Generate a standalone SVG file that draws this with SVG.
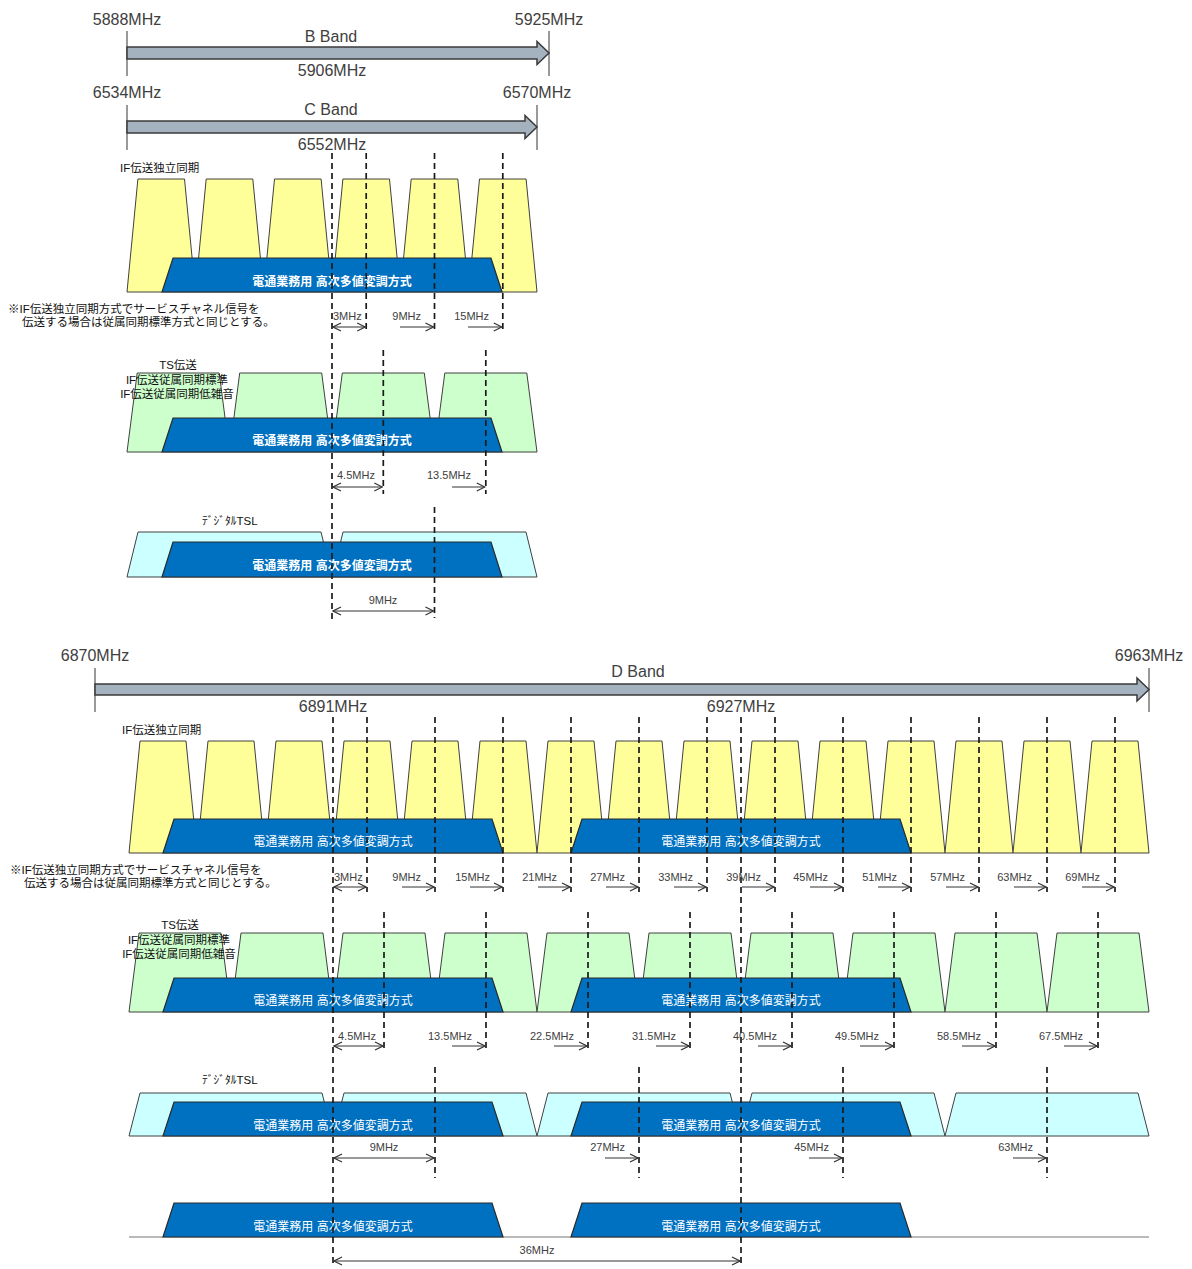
<svg xmlns="http://www.w3.org/2000/svg" width="1192" height="1269" viewBox="0 0 1192 1269">
<defs>
<style>
text{font-family:"Liberation Sans","Noto Sans CJK JP",sans-serif;fill:#404040}
.big{font-size:16px}
.sm{font-size:11px}
.jp{font-size:11.5px;fill:#111}
.bt{font-size:12px;fill:#fff;text-anchor:middle}
.btb{font-size:12px;fill:#fff;text-anchor:middle;font-weight:bold}
.mid{text-anchor:middle}
.end{text-anchor:end}
.band{fill:#a4b2c0;stroke:#3a3a3a;stroke-width:1.5}
.tick{stroke:#555;stroke-width:1.2}
.y{fill:#ffff99;stroke:#404040;stroke-width:1}
.g{fill:#ccffcc;stroke:#404040;stroke-width:1}
.c{fill:#ccffff;stroke:#404040;stroke-width:1}
.b{fill:#0070c0;stroke:#2a2a2a;stroke-width:1.2}
.dash{stroke:#1a1a1a;stroke-width:1.7;stroke-dasharray:6 4;fill:none}
.dim{stroke:#333;stroke-width:1;fill:none;marker-end:url(#ah)}
.dim2{stroke:#333;stroke-width:1;fill:none;marker-end:url(#ah);marker-start:url(#ah)}
</style>
<marker id="ah" markerWidth="10" markerHeight="10" refX="9" refY="5" orient="auto-start-reverse" markerUnits="userSpaceOnUse">
<path d="M1,1 L9,5 L1,9" fill="none" stroke="#333" stroke-width="1.2"/>
</marker>
</defs>
<rect width="1192" height="1269" fill="#fff"/>

<!-- B band -->
<g id="band-b">
<line class="tick" x1="127" y1="31" x2="127" y2="76"/>
<line class="tick" x1="549" y1="31" x2="549" y2="76"/>
<polygon class="band" points="127,47 537,47 537,41.5 549,53 537,64.5 537,59 127,59"/>
<text class="big mid" x="127" y="25">5888MHz</text>
<text class="big mid" x="549" y="25">5925MHz</text>
<text class="big mid" x="331" y="42">B Band</text>
<text class="big mid" x="332" y="76">5906MHz</text>
</g>
<!-- C band -->
<g id="band-c">
<line class="tick" x1="127" y1="105" x2="127" y2="150"/>
<line class="tick" x1="537" y1="105" x2="537" y2="150"/>
<polygon class="band" points="127,121 525,121 525,115.5 537,127 525,138.5 525,133 127,133"/>
<text class="big mid" x="127" y="98">6534MHz</text>
<text class="big mid" x="537" y="98">6570MHz</text>
<text class="big mid" x="331" y="115">C Band</text>
<text class="big mid" x="332" y="150">6552MHz</text>
</g>

<!-- Top row 1 -->
<g id="top-if-indep">
<text class="jp" x="120" y="172">IF伝送独立同期</text>
<polygon class="y" points="127,292 137.9,179 184.5,179 195.4,292"/>
<polygon class="y" points="195.3,292 206.2,179 252.8,179 263.7,292"/>
<polygon class="y" points="263.6,292 274.5,179 321.1,179 332,292"/>
<polygon class="y" points="332,292 342.9,179 389.5,179 400.4,292"/>
<polygon class="y" points="400.3,292 411.2,179 457.8,179 468.7,292"/>
<polygon class="y" points="468.6,292 479.5,179 526.1,179 537,292"/>
<polygon class="b" points="162,292 173,258 491,258 502,292"/>
<text class="btb" x="332" y="286">電通業務用 高次多値変調方式</text>
<text class="jp" x="8" y="313">※IF伝送独立同期方式でサービスチャネル信号を</text>
<text class="jp" x="22" y="326">伝送する場合は従属同期標準方式と同じとする。</text>
</g>
<!-- Top row 2 -->
<g id="top-ts">
<polygon class="g" points="127,452 137.2,373 219.2,373 229.5,452"/>
<polygon class="g" points="229.5,452 239.7,373 321.7,373 332,452"/>
<polygon class="g" points="332,452 342.3,373 424.3,373 434.5,452"/>
<polygon class="g" points="434.5,452 444.8,373 526.8,373 537,452"/>
<polygon class="b" points="162,452 173,418 491,418 502,452"/>
<text class="btb" x="332" y="445">電通業務用 高次多値変調方式</text>
<text class="jp mid" x="178" y="369">TS伝送</text>
<text class="jp mid" x="177" y="384">IF伝送従属同期標準</text>
<text class="jp mid" x="177" y="398">IF伝送従属同期低雑音</text>
</g>
<!-- Top row 3 -->
<g id="top-tsl">
<text class="jp" x="202" y="525">ﾃﾞｼﾞﾀﾙTSL</text>
<polygon class="c" points="127,577 138,532 321,532 332,577"/>
<polygon class="c" points="332,577 343,532 526,532 537,577"/>
<polygon class="b" points="162,577 173,542 491,542 502,577"/>
<text class="btb" x="332" y="570">電通業務用 高次多値変調方式</text>
</g>

<!-- D band -->
<g id="band-d">
<line class="tick" x1="95" y1="668" x2="95" y2="712"/>
<line class="tick" x1="1149" y1="668" x2="1149" y2="712"/>
<polygon class="band" points="95,684 1137,684 1137,678 1149,689.5 1137,701 1137,695 95,695"/>
<text class="big mid" x="95" y="661">6870MHz</text>
<text class="big mid" x="1149" y="661">6963MHz</text>
<text class="big mid" x="638" y="677">D Band</text>
<text class="big mid" x="333" y="712">6891MHz</text>
<text class="big mid" x="741" y="712">6927MHz</text>
</g>

<!-- D row 1 -->
<g id="d-if-indep">
<text class="jp" x="122" y="734">IF伝送独立同期</text>
<polygon class="y" points="129,853 140,741 186,741 197,853"/>
<polygon class="y" points="197,853 208,741 254,741 265,853"/>
<polygon class="y" points="265,853 276,741 322,741 333,853"/>
<polygon class="y" points="333,853 344,741 390,741 401,853"/>
<polygon class="y" points="401,853 412,741 458,741 469,853"/>
<polygon class="y" points="469,853 480,741 526,741 537,853"/>
<polygon class="y" points="537,853 548,741 594,741 605,853"/>
<polygon class="y" points="605,853 616,741 662,741 673,853"/>
<polygon class="y" points="673,853 684,741 730,741 741,853"/>
<polygon class="y" points="741,853 752,741 798,741 809,853"/>
<polygon class="y" points="809,853 820,741 866,741 877,853"/>
<polygon class="y" points="877,853 888,741 934,741 945,853"/>
<polygon class="y" points="945,853 956,741 1002,741 1013,853"/>
<polygon class="y" points="1013,853 1024,741 1070,741 1081,853"/>
<polygon class="y" points="1081,853 1092,741 1138,741 1149,853"/>
<polygon class="b" points="163,853 174,819 492,819 503,853"/>
<polygon class="b" points="571,853 582,819 900,819 911,853"/>
<text class="bt" x="333" y="846">電通業務用 高次多値変調方式</text>
<text class="bt" x="741" y="846">電通業務用 高次多値変調方式</text>
<text class="jp" x="10" y="874">※IF伝送独立同期方式でサービスチャネル信号を</text>
<text class="jp" x="24" y="887">伝送する場合は従属同期標準方式と同じとする。</text>
</g>
<!-- D row 2 -->
<g id="d-ts">
<polygon class="g" points="129,1012 139,933 221,933 231,1012"/>
<polygon class="g" points="231,1012 241,933 323,933 333,1012"/>
<polygon class="g" points="333,1012 343,933 425,933 435,1012"/>
<polygon class="g" points="435,1012 445,933 527,933 537,1012"/>
<polygon class="g" points="537,1012 547,933 629,933 639,1012"/>
<polygon class="g" points="639,1012 649,933 731,933 741,1012"/>
<polygon class="g" points="741,1012 751,933 833,933 843,1012"/>
<polygon class="g" points="843,1012 853,933 935,933 945,1012"/>
<polygon class="g" points="945,1012 955,933 1037,933 1047,1012"/>
<polygon class="g" points="1047,1012 1057,933 1139,933 1149,1012"/>
<polygon class="b" points="163,1012 174,978 492,978 503,1012"/>
<polygon class="b" points="571,1012 582,978 900,978 911,1012"/>
<text class="bt" x="333" y="1005">電通業務用 高次多値変調方式</text>
<text class="bt" x="741" y="1005">電通業務用 高次多値変調方式</text>
<text class="jp mid" x="180" y="929">TS伝送</text>
<text class="jp mid" x="179" y="944">IF伝送従属同期標準</text>
<text class="jp mid" x="179" y="958">IF伝送従属同期低雑音</text>
</g>
<!-- D row 3 -->
<g id="d-tsl">
<text class="jp" x="202" y="1084">ﾃﾞｼﾞﾀﾙTSL</text>
<polygon class="c" points="129,1136 140,1093 322,1093 333,1136"/>
<polygon class="c" points="333,1136 344,1093 526,1093 537,1136"/>
<polygon class="c" points="537,1136 548,1093 730,1093 741,1136"/>
<polygon class="c" points="741,1136 752,1093 934,1093 945,1136"/>
<polygon class="c" points="945,1136 956,1093 1138,1093 1149,1136"/>
<polygon class="b" points="163,1136 174,1102 492,1102 503,1136"/>
<polygon class="b" points="571,1136 582,1102 900,1102 911,1136"/>
<text class="bt" x="333" y="1130">電通業務用 高次多値変調方式</text>
<text class="bt" x="741" y="1130">電通業務用 高次多値変調方式</text>
</g>
<!-- D row 4 -->
<g id="d-only">
<line x1="129" y1="1237" x2="1149" y2="1237" stroke="#777" stroke-width="1.2"/>
<polygon class="b" points="163,1237 174,1203 492,1203 503,1237"/>
<polygon class="b" points="571,1237 582,1203 900,1203 911,1237"/>
<text class="bt" x="333" y="1231">電通業務用 高次多値変調方式</text>
<text class="bt" x="741" y="1231">電通業務用 高次多値変調方式</text>
</g>

<!-- connectors: dashed reference lines and dimension arrows -->
<g id="connectors">
<line class="dash" x1="332" y1="153" x2="332" y2="622"/>
<line class="dash" x1="366.2" y1="153" x2="366.2" y2="333"/>
<line class="dash" x1="434.5" y1="153" x2="434.5" y2="333"/>
<line class="dash" x1="502.8" y1="153" x2="502.8" y2="333"/>
<line class="dash" x1="383.3" y1="350" x2="383.3" y2="494"/>
<line class="dash" x1="485.8" y1="350" x2="485.8" y2="494"/>
<line class="dash" x1="434.5" y1="507" x2="434.5" y2="618"/>

<line class="dim2" x1="333" y1="327" x2="365.2" y2="327"/>
<line class="dim" x1="400" y1="327" x2="433.5" y2="327"/>
<line class="dim" x1="468" y1="327" x2="501.8" y2="327"/>
<line class="dim2" x1="333" y1="487" x2="382.3" y2="487"/>
<line class="dim" x1="452" y1="487" x2="484.8" y2="487"/>
<line class="dim2" x1="333" y1="611" x2="433.5" y2="611"/>

<line class="dash" x1="333" y1="717" x2="333" y2="1266"/>
<line class="dash" x1="741" y1="717" x2="741" y2="1266"/>
<line class="dash" x1="367" y1="717" x2="367" y2="892"/>
<line class="dash" x1="435" y1="717" x2="435" y2="892"/>
<line class="dash" x1="503" y1="717" x2="503" y2="892"/>
<line class="dash" x1="571" y1="717" x2="571" y2="892"/>
<line class="dash" x1="639" y1="717" x2="639" y2="892"/>
<line class="dash" x1="707" y1="717" x2="707" y2="892"/>
<line class="dash" x1="775" y1="717" x2="775" y2="892"/>
<line class="dash" x1="843" y1="717" x2="843" y2="892"/>
<line class="dash" x1="911" y1="717" x2="911" y2="892"/>
<line class="dash" x1="979" y1="717" x2="979" y2="892"/>
<line class="dash" x1="1047" y1="717" x2="1047" y2="892"/>
<line class="dash" x1="1115" y1="717" x2="1115" y2="892"/>

<line class="dash" x1="384" y1="912" x2="384" y2="1052"/>
<line class="dash" x1="486" y1="912" x2="486" y2="1052"/>
<line class="dash" x1="588" y1="912" x2="588" y2="1052"/>
<line class="dash" x1="690" y1="912" x2="690" y2="1052"/>
<line class="dash" x1="792" y1="912" x2="792" y2="1052"/>
<line class="dash" x1="894" y1="912" x2="894" y2="1052"/>
<line class="dash" x1="996" y1="912" x2="996" y2="1052"/>
<line class="dash" x1="1098" y1="912" x2="1098" y2="1052"/>

<line class="dash" x1="435" y1="1067" x2="435" y2="1178"/>
<line class="dash" x1="639" y1="1067" x2="639" y2="1178"/>
<line class="dash" x1="843" y1="1067" x2="843" y2="1178"/>
<line class="dash" x1="1047" y1="1067" x2="1047" y2="1178"/>

<line class="dim2" x1="334" y1="887" x2="366" y2="887"/>
<line class="dim" x1="402" y1="887" x2="434" y2="887"/>
<line class="dim" x1="470" y1="887" x2="502" y2="887"/>
<line class="dim" x1="538" y1="887" x2="570" y2="887"/>
<line class="dim" x1="606" y1="887" x2="638" y2="887"/>
<line class="dim" x1="674" y1="887" x2="706" y2="887"/>
<line class="dim" x1="742" y1="887" x2="774" y2="887"/>
<line class="dim" x1="810" y1="887" x2="842" y2="887"/>
<line class="dim" x1="878" y1="887" x2="910" y2="887"/>
<line class="dim" x1="946" y1="887" x2="978" y2="887"/>
<line class="dim" x1="1014" y1="887" x2="1046" y2="887"/>
<line class="dim" x1="1082" y1="887" x2="1114" y2="887"/>

<line class="dim2" x1="334" y1="1046" x2="383" y2="1046"/>
<line class="dim" x1="452" y1="1046" x2="485" y2="1046"/>
<line class="dim" x1="554" y1="1046" x2="587" y2="1046"/>
<line class="dim" x1="656" y1="1046" x2="689" y2="1046"/>
<line class="dim" x1="758" y1="1046" x2="791" y2="1046"/>
<line class="dim" x1="860" y1="1046" x2="893" y2="1046"/>
<line class="dim" x1="962" y1="1046" x2="995" y2="1046"/>
<line class="dim" x1="1064" y1="1046" x2="1097" y2="1046"/>

<line class="dim2" x1="334" y1="1158" x2="434" y2="1158"/>
<line class="dim" x1="605" y1="1158" x2="638" y2="1158"/>
<line class="dim" x1="809" y1="1158" x2="842" y2="1158"/>
<line class="dim" x1="1013" y1="1158" x2="1046" y2="1158"/>

<line class="dim2" x1="334" y1="1261" x2="740" y2="1261"/>
</g>

<!-- dimension labels -->
<g id="dim-labels">
<text class="sm" x="333" y="320">3MHz</text>
<text class="sm end" x="421" y="320">9MHz</text>
<text class="sm end" x="489" y="320">15MHz</text>
<text class="sm" x="337" y="479">4.5MHz</text>
<text class="sm end" x="471" y="479">13.5MHz</text>
<text class="sm mid" x="383" y="604">9MHz</text>

<text class="sm" x="334" y="881">3MHz</text>
<text class="sm end" x="421" y="881">9MHz</text>
<text class="sm end" x="490" y="881">15MHz</text>
<text class="sm end" x="557" y="881">21MHz</text>
<text class="sm end" x="625" y="881">27MHz</text>
<text class="sm end" x="693" y="881">33MHz</text>
<text class="sm end" x="761" y="881">39MHz</text>
<text class="sm end" x="828" y="881">45MHz</text>
<text class="sm end" x="897" y="881">51MHz</text>
<text class="sm end" x="965" y="881">57MHz</text>
<text class="sm end" x="1032" y="881">63MHz</text>
<text class="sm end" x="1100" y="881">69MHz</text>

<text class="sm" x="338" y="1040">4.5MHz</text>
<text class="sm end" x="472" y="1040">13.5MHz</text>
<text class="sm end" x="574" y="1040">22.5MHz</text>
<text class="sm end" x="676" y="1040">31.5MHz</text>
<text class="sm end" x="777" y="1040">40.5MHz</text>
<text class="sm end" x="879" y="1040">49.5MHz</text>
<text class="sm end" x="981" y="1040">58.5MHz</text>
<text class="sm end" x="1083" y="1040">67.5MHz</text>

<text class="sm mid" x="384" y="1151">9MHz</text>
<text class="sm end" x="625" y="1151">27MHz</text>
<text class="sm end" x="829" y="1151">45MHz</text>
<text class="sm end" x="1033" y="1151">63MHz</text>

<text class="sm mid" x="537" y="1254">36MHz</text>
</g>
</svg>
